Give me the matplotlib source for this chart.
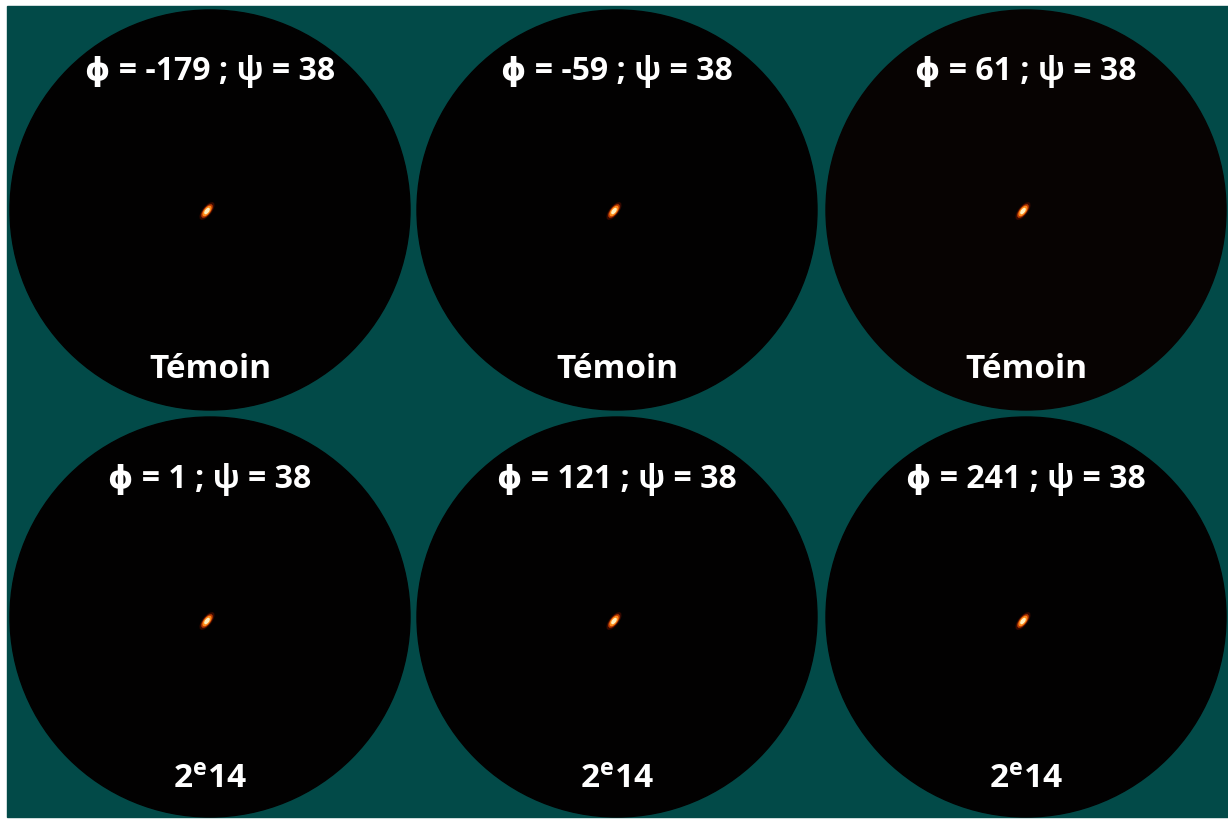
import matplotlib.pyplot as plt
from matplotlib.patches import Circle, Ellipse, Rectangle
from matplotlib import rcParams

rcParams["font.family"] = ["Open Sans", "DejaVu Sans"]
rcParams["mathtext.fontset"] = "custom"
rcParams["mathtext.bf"] = "Open Sans:bold"
rcParams["mathtext.rm"] = "Open Sans:bold"

# angles de chaque image (phi ; psi)
phi = [-179, -59, 61, 1, 121, 241]
psi = [38, 38, 38, 38, 38, 38]
groupes = ["Témoin", "Témoin", "Témoin", "2e14", "2e14", "2e14"]

W, H = 1228, 819
fig = plt.figure(figsize=(W / 100, H / 100), dpi=100)
ax = fig.add_axes([0, 0, 1, 1])
ax.set_xlim(0, W)
ax.set_ylim(H, 0)
ax.axis("off")
fig.patch.set_facecolor("white")

teal = "#024a48"
ax.add_patch(Rectangle((7, 6), W - 7, 811, color=teal, zorder=0))

cx = [210, 617, 1026]
cy = [210, 617]
r = 200

for i in range(6):
    x = cx[i % 3]
    y = cy[i // 3]
    fond = "#070302" if i == 2 else "#020101"
    ax.add_patch(Circle((x, y), r, color=fond, zorder=1))

    # tache lumineuse
    sx, sy = x - 3, y + 1 + (3 if i >= 3 else 0)
    for w, h, c, a in [(20, 8, "#5a1000", 0.45), (15, 6, "#c83c00", 0.8),
                       (11, 4.5, "#ff8c1a", 1.0), (6, 2.5, "#fff0c0", 1.0)]:
        ax.add_patch(Ellipse((sx, sy), w, h, angle=-52, color=c, alpha=a, zorder=2))

    ax.text(x, y - 138, "ϕ = %d ; ψ = %d" % (phi[i], psi[i]), color="white",
            fontsize=23, fontweight="bold", ha="center", va="center", zorder=3)
    if groupes[i] == "Témoin":
        ax.text(x, y + 159, "Témoin", color="white", fontsize=24, fontweight="bold",
                ha="center", va="center", zorder=3)
    else:
        ax.text(x, y + 163, r"$\mathbf{2^{e}14}$", color="white", fontsize=24,
                ha="center", va="center", zorder=3)

fig.savefig("out.png", dpi=100, facecolor="white")
